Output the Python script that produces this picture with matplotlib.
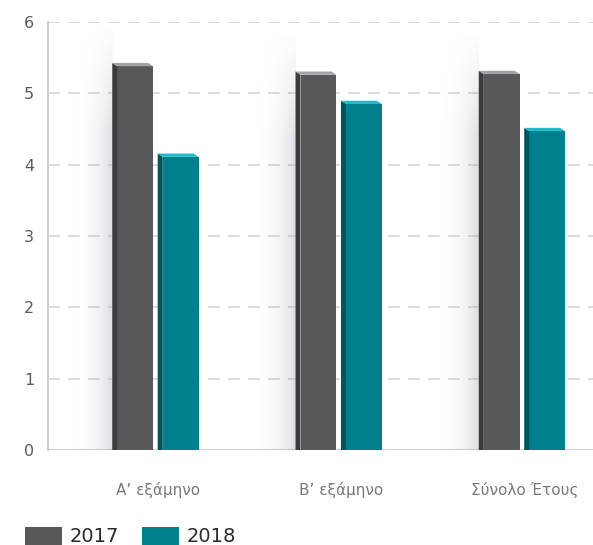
import matplotlib
matplotlib.use("Agg")
import matplotlib.pyplot as plt
import numpy as np
from matplotlib.patches import Polygon, Rectangle

categories = ["Α\u2019 εξάμηνο", "Β\u2019 εξάμηνο", "Σύνολο Έτους"]
series_names = ["2017", "2018"]
values_2017 = [5.38, 5.26, 5.27]
values_2018 = [4.11, 4.85, 4.47]
yticks = [0, 1, 2, 3, 4, 5, 6]

front_cols = ["#58585a", "#00808c"]
side_cols = ["#3c3c3e", "#00525b"]
top_cols = ["#a3a3a5", "#22b9c9"]

W, H = 593, 545
fig = plt.figure(figsize=(W / 100, H / 100), dpi=100)
ax = fig.add_axes([48 / W, 1 - 450 / H, 1 - 48 / W, (450 - 22) / H])

ax.set_xlim(-0.600, 2.374)
ax.set_ylim(0, 6)

x = np.arange(len(categories))
bw = 0.196
off = 0.124
dx = 0.0273
dy = 0.046

# gridlines
for t in yticks[1:]:
    ax.axhline(t, color="#d4d4d4", lw=1.2, dashes=(7, 5), zorder=0)
ax.axhline(0, color="#d0d0d0", lw=1.5, zorder=1)

# soft shadows behind bar pairs (2D fading gradient)
hx = np.linspace(0, 1, 80)[None, :] ** 2.2
vy = np.linspace(0, 1, 120)[:, None]
vfade = np.clip((vy) / 0.25, 0, 1)  # fade near the top (row 0 = top)
alpha = hx * vfade
rgba = np.zeros((120, 80, 4))
rgba[..., 0] = 0.66
rgba[..., 1] = 0.69
rgba[..., 2] = 0.73
rgba[..., 3] = alpha * 0.4
for i in range(len(categories)):
    top = max(values_2017[i], values_2018[i])
    left = x[i] - off - bw / 2 - dx
    ax.imshow(rgba, extent=(left - 0.22, left, 0, top + 0.6), aspect="auto",
              zorder=1, interpolation="bilinear")

for s, vals in enumerate([values_2017, values_2018]):
    xs = x + (-off if s == 0 else off)
    ax.bar(xs, vals, width=bw, color=front_cols[s], zorder=3, linewidth=0)
    for xc, v in zip(xs, vals):
        l, r = xc - bw / 2, xc + bw / 2
        side = Polygon([(l - dx, 0), (l, 0), (l, v), (l - dx, v + dy)],
                       closed=True, fc=side_cols[s], ec="none", zorder=3)
        topf = Polygon([(l - dx, v + dy), (r - dx, v + dy), (r, v), (l, v)],
                       closed=True, fc=top_cols[s], ec="none", zorder=3)
        ax.add_patch(side)
        ax.add_patch(topf)

ax.set_xticks(x)
ax.set_xticklabels(categories, fontsize=11, color="#7a7a7a")
ax.set_yticks(yticks)
ax.set_yticklabels([str(t) for t in yticks], fontsize=11.5, color="#5a5a5a")
ax.tick_params(axis="both", length=0)
ax.tick_params(axis="x", pad=23)
ax.tick_params(axis="y", pad=10)
for sp in ["top", "right", "bottom"]:
    ax.spines[sp].set_visible(False)
ax.spines["left"].set_color("#cfcfcf")
ax.spines["left"].set_linewidth(1.5)

# legend
leg_x = [25, 142]
for s, name in enumerate(series_names):
    fig.patches.append(Rectangle((leg_x[s] / W, 0), 37 / W, (H - 527) / H,
                                 transform=fig.transFigure, fc=front_cols[s],
                                 ec="none"))
    fig.text((leg_x[s] + 45) / W, 1 - 537 / H, name, fontsize=14,
             color="#2a2a2a", va="center", ha="left")

fig.savefig("out.png", dpi=100)
